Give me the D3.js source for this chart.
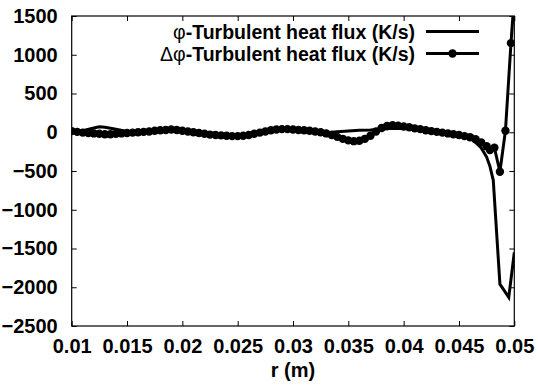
<!DOCTYPE html>
<html>
<head>
<meta charset="utf-8">
<script src="https://cdn.jsdelivr.net/npm/d3@7"></script>
<style>
  html, body { margin: 0; padding: 0; background: #fff; }
  svg text { font-family: "Liberation Sans", Arial, sans-serif; font-weight: bold; }
</style>
</head>
<body>
<div id="chart"></div>
<script>
// φ series (solid line)
const phiR = [0.010, 0.011, 0.012, 0.0125, 0.013, 0.014, 0.015, 0.016, 0.017, 0.018, 0.019, 0.020,
  0.021, 0.022, 0.023, 0.024, 0.025, 0.026, 0.027, 0.028, 0.029, 0.030, 0.031, 0.032, 0.033,
  0.034, 0.035, 0.036, 0.037, 0.038, 0.039, 0.040, 0.041, 0.042, 0.043, 0.044, 0.045, 0.046,
  0.0465, 0.047, 0.0475, 0.0478, 0.0481, 0.0487, 0.0495, 0.050];
const phiFlux = [15, 20, 55, 70, 65, 40, 10, 0, 10, 25, 30, 15,
  -5, -20, -35, -45, -45, -30, -5, 20, 30, 25, 5, -5, -5,
  5, 15, 25, 30, 40, 50, 50, 40, 25, 5, -15, -35, -65,
  -130, -200, -320, -440, -620, -1960, -2130, -1550];

// Δφ series (line + points)
const dphiR = [0.0100, 0.0105, 0.0110, 0.0115, 0.0120, 0.0125, 0.0130, 0.0135, 0.0140, 0.0145,
  0.0150, 0.0155, 0.0160, 0.0165, 0.0170, 0.0175, 0.0180, 0.0185, 0.0190, 0.0195,
  0.0200, 0.0205, 0.0210, 0.0215, 0.0220, 0.0225, 0.0230, 0.0235, 0.0240, 0.0245,
  0.0250, 0.0255, 0.0260, 0.0265, 0.0270, 0.0275, 0.0280, 0.0285, 0.0290, 0.0295,
  0.0300, 0.0305, 0.0310, 0.0315, 0.0320, 0.0325, 0.0330, 0.0335, 0.0340, 0.0345,
  0.0350, 0.0355, 0.0360, 0.0365, 0.0370, 0.0375, 0.0380, 0.0385, 0.0390, 0.0395,
  0.0400, 0.0405, 0.0410, 0.0415, 0.0420, 0.0425, 0.0430, 0.0435, 0.0440, 0.0445,
  0.0450, 0.0455, 0.0460, 0.0465, 0.0470, 0.0475, 0.0478, 0.0482, 0.0487, 0.0492,
  0.0497, 0.0500];
const dphiFlux = [15, 5, -5, -10, -15, -20, -25, -25, -20, -15,
  -10, -5, 0, 5, 10, 20, 25, 30, 35, 30,
  20, 10, 0, -10, -20, -30, -35, -40, -45, -50,
  -50, -45, -35, -20, -5, 10, 25, 35, 40, 40,
  35, 30, 25, 20, 10, 0, -15, -35, -60, -85,
  -105, -115, -110, -85, -45, 10, 55, 80, 90, 85,
  75, 65, 50, 40, 25, 15, 5, -5, -15, -25,
  -35, -50, -65, -90, -130, -180, -230, -200, -510, 20,
  1150, 1750];

const xTicks = [0.01, 0.015, 0.02, 0.025, 0.03, 0.035, 0.04, 0.045, 0.05];
const yTicks = [-2500, -2000, -1500, -1000, -500, 0, 500, 1000, 1500];
const seriesLabels = ['φ-Turbulent heat flux (K/s)', 'Δφ-Turbulent heat flux (K/s)'];

const width = 538, height = 387;
const plot = { left: 71.7, right: 514.3, top: 16, bottom: 326 };
const fontSize = '20px';

const svg = d3.select('#chart').append('svg')
  .attr('width', width)
  .attr('height', height);

const x = d3.scaleLinear().domain([0.01, 0.05]).range([plot.left, plot.right]);
const y = d3.scaleLinear().domain([-2500, 1500]).range([plot.bottom, plot.top]);

svg.append('defs').append('clipPath').attr('id', 'clip')
  .append('rect')
  .attr('x', plot.left).attr('y', plot.top)
  .attr('width', plot.right - plot.left).attr('height', plot.bottom - plot.top);

const tickLen = 5;

// axes with inward ticks, mirrored on top and right
const styleAxis = g => {
  g.select('.domain').remove();
  g.selectAll('.tick line').attr('stroke', '#000').attr('stroke-width', 1);
  g.selectAll('text').attr('fill', '#000').style('font-size', fontSize);
};

svg.append('g')
  .attr('transform', `translate(0,${plot.bottom})`)
  .call(d3.axisBottom(x).tickValues(xTicks).tickFormat(d3.format('')).tickSizeInner(-tickLen).tickSizeOuter(0).tickPadding(13))
  .call(styleAxis);

svg.append('g')
  .attr('transform', `translate(0,${plot.top})`)
  .call(d3.axisTop(x).tickValues(xTicks).tickFormat('').tickSizeInner(-tickLen).tickSizeOuter(0))
  .call(styleAxis);

svg.append('g')
  .attr('transform', `translate(${plot.left},0)`)
  .call(d3.axisLeft(y).tickValues(yTicks).tickFormat(d3.format('d')).tickSizeInner(-tickLen).tickSizeOuter(0).tickPadding(14))
  .call(styleAxis);

svg.append('g')
  .attr('transform', `translate(${plot.right},0)`)
  .call(d3.axisRight(y).tickValues(yTicks).tickFormat('').tickSizeInner(-tickLen).tickSizeOuter(0))
  .call(styleAxis);

// frame
svg.append('rect')
  .attr('x', plot.left).attr('y', plot.top)
  .attr('width', plot.right - plot.left).attr('height', plot.bottom - plot.top)
  .attr('fill', 'none').attr('stroke', '#000').attr('stroke-width', 1.2);

const line = d3.line().x(d => x(d[0])).y(d => y(d[1]));

const phiData = phiR.map((r, i) => [r, phiFlux[i]]);
const dphiData = dphiR.map((r, i) => [r, dphiFlux[i]]);

const marks = svg.append('g').attr('clip-path', 'url(#clip)');

marks.append('path')
  .datum(phiData)
  .attr('fill', 'none')
  .attr('stroke', '#000')
  .attr('stroke-width', 3)
  .attr('d', line);

marks.append('path')
  .datum(dphiData)
  .attr('fill', 'none')
  .attr('stroke', '#000')
  .attr('stroke-width', 3)
  .attr('d', line);

marks.selectAll('circle.pt')
  .data(dphiData)
  .join('circle')
  .attr('class', 'pt')
  .attr('cx', d => x(d[0]))
  .attr('cy', d => y(d[1]))
  .attr('r', 4.2)
  .attr('fill', '#000');

// legend
const legendRows = [31.5, 53.5];
seriesLabels.forEach((label, i) => {
  const ly = legendRows[i];
  const t = svg.append('text')
    .attr('x', 415).attr('y', ly)
    .attr('text-anchor', 'end')
    .attr('dominant-baseline', 'central')
    .style('font-size', '19.5px')
    .attr('fill', '#000');
  const prefix = i === 0 ? 'φ' : 'Δφ';
  t.append('tspan').style('font-weight', 'normal').text(prefix);
  t.append('tspan').text(label.slice(prefix.length));

  svg.append('line')
    .attr('x1', 426).attr('x2', 479)
    .attr('y1', ly).attr('y2', ly)
    .attr('stroke', '#000').attr('stroke-width', 3);
  if (i === 1) {
    svg.append('circle')
      .attr('cx', 452.5).attr('cy', ly).attr('r', 4.2).attr('fill', '#000');
  }
});

// x axis title
svg.append('text')
  .attr('x', (plot.left + plot.right) / 2)
  .attr('y', 377)
  .attr('text-anchor', 'middle')
  .style('font-size', fontSize)
  .attr('fill', '#000')
  .text('r (m)');
</script>
</body>
</html>
